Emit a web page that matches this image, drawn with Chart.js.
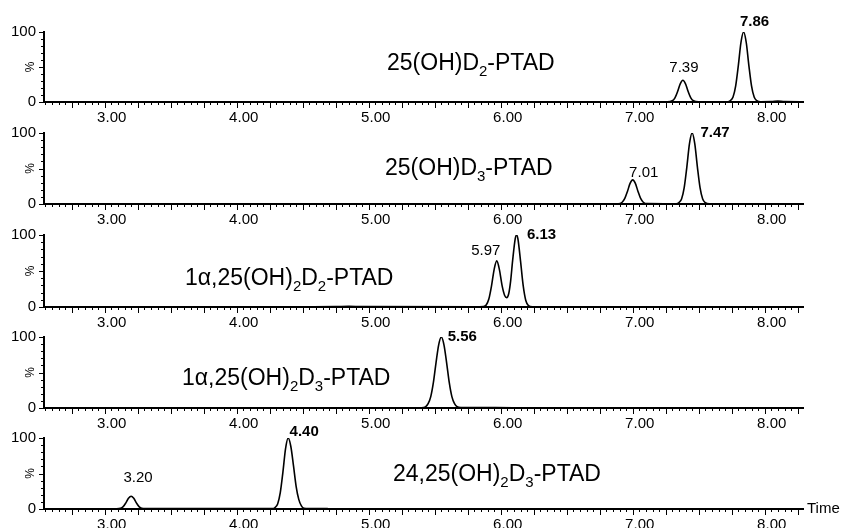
<!DOCTYPE html>
<html>
<head>
<meta charset="utf-8">
<script src="https://cdn.jsdelivr.net/npm/chart.js@4.4.0/dist/chart.umd.min.js"></script>
<style>
  body { margin: 0; background: #fff; width: 841px; height: 528px; overflow: hidden; position: relative; }
  canvas { position: absolute; left: 0; }
</style>
</head>
<body>
<script>
// retention time axis (min)
var timeMin = 2.54;
var timeMax = 8.29;
var timeTicks = [3, 4, 5, 6, 7, 8];
var yTicks = [0, 100];

// traces: [time, %]
var trace1 = [[5.90,0.4],[7.26,0.4],[7.30,1.8],[7.32,6],[7.34,15],[7.36,26],[7.38,31],[7.40,26],[7.42,15],[7.44,6],[7.46,1.8],[7.50,0.4],
  [7.72,0.4],[7.74,2],[7.76,7],[7.78,23],[7.80,52],[7.82,85],[7.84,100],[7.86,85],[7.88,52],[7.90,23],[7.92,7],[7.94,2],[7.97,0.4],
  [8.05,0.5],[8.10,1.2],[8.15,0.5],[8.27,0.4]];
var trace2 = [[5.90,0.4],[6.89,0.4],[6.92,2.5],[6.94,7.8],[6.96,17.7],[6.98,29],[7.00,34],[7.02,29],[7.04,17.7],[7.06,7.8],[7.08,2.5],[7.11,0.5],
  [7.33,0.4],[7.35,2],[7.37,7],[7.39,23],[7.41,52],[7.43,85],[7.45,100],[7.47,85],[7.49,52],[7.51,23],[7.53,7],[7.55,2],[7.58,0.4],[8.27,0.4]];
var trace3 = [[4.50,0.4],[4.75,0.6],[4.85,0.9],[4.95,0.6],[5.84,0.4],[5.87,0.6],[5.89,2.8],[5.91,11],[5.93,29],[5.95,52],[5.97,64],[5.99,52],
  [6.01,30],[6.03,16],[6.045,13],[6.06,18],[6.075,36],[6.09,64],[6.11,95],[6.12,100],[6.13,95],[6.15,64],[6.17,30],[6.19,9],[6.21,2],[6.24,0.4],[6.47,0.4]];
var trace4 = [[4.50,0.4],[5.40,0.4],[5.43,1.7],[5.45,6],[5.47,16],[5.49,36],[5.51,64],[5.53,89],[5.55,100],[5.57,89],[5.59,64],[5.61,36],
  [5.63,16],[5.65,6],[5.67,1.7],[5.70,0.7],[5.85,0.5],[6.09,0.4]];
var trace5 = [[2.54,0.4],[3.09,0.4],[3.12,1],[3.14,3.4],[3.16,8.6],[3.18,15],[3.20,18],[3.22,15],[3.24,8.6],[3.26,3.4],[3.28,1],[3.31,0.6],
  [3.45,0.7],[4.27,0.5],[4.29,2],[4.31,7],[4.33,23],[4.35,52],[4.37,85],[4.39,100],[4.41,88],[4.43,61],[4.45,32],[4.47,13.5],[4.49,4.4],
  [4.51,1.1],[4.55,0.7],[4.69,0.5]];
var traces = [trace1, trace2, trace3, trace4, trace5];

// peak apexes and their labels
var peakTimes = [[7.38, 7.84], [7.00, 7.45], [5.97, 6.12], [5.55], [3.20, 4.39]];
var peakHeights = [[31, 100], [34, 100], [64, 100], [100], [18, 100]];
var peakLabels = [['7.39', '7.86'], ['7.01', '7.47'], ['5.97', '6.13'], ['5.56'], ['3.20', '4.40']];
var peakBold = [[false, true], [false, true], [false, true], [true], [false, true]];

// compound names, [text, subscript?]
var names = [
  [['25(OH)D', 0], ['2', 1], ['-PTAD', 0]],
  [['25(OH)D', 0], ['3', 1], ['-PTAD', 0]],
  [['1\u03b1,25(OH)', 0], ['2', 1], ['D', 0], ['2', 1], ['-PTAD', 0]],
  [['1\u03b1,25(OH)', 0], ['2', 1], ['D', 0], ['3', 1], ['-PTAD', 0]],
  [['24,25(OH)', 0], ['2', 1], ['D', 0], ['3', 1], ['-PTAD', 0]]
];

// layout of each panel (pixels)
var layout = [
  {top: 32,  bottom: 102, nameX: 387, nameRise: 32, labelOff: [[1, -12], [11, -10]]},
  {top: 133, bottom: 204, nameX: 385, nameRise: 29, labelOff: [[11, -7], [23, 0]]},
  {top: 235, bottom: 307, nameX: 185, nameRise: 22, labelOff: [[-11, -10], [25, 0]]},
  {top: 337, bottom: 408, nameX: 182, nameRise: 23, labelOff: [[21, 0]]},
  {top: 438, bottom: 509, nameX: 393, nameRise: 28, labelOff: [[7, -18], [16, -6]]}
];

var FONT = "'Liberation Sans', Arial, Helvetica, sans-serif";
Chart.defaults.font.family = FONT;
Chart.defaults.color = '#000';

function draw_name(ctx, parts, x, y){
  for (var k = 0; k < parts.length; k++) {
    var sub = parts[k][1];
    ctx.font = (sub ? '15px ' : '23px ') + FONT;
    ctx.fillText(parts[k][0], x, sub ? y + 6 : y);
    x += ctx.measureText(parts[k][0]).width;
  }
}

function make_panel(i){
  var lay = layout[i];
  var padTop = 24;
  var top = lay.top - padTop;
  var bottom = (i == 4) ? 528 : lay.bottom + 28;
  var canvas = document.createElement('canvas');
  canvas.width = 841;
  canvas.height = bottom - top;
  canvas.style.top = top + 'px';
  document.body.appendChild(canvas);

  var decor = {
    id: 'decor' + i,
    afterDraw: function(chart){
      var ctx = chart.ctx;
      var xs = chart.scales.x, ys = chart.scales.y;
      var area = chart.chartArea;
      ctx.save();
      ctx.strokeStyle = '#000';
      ctx.lineWidth = 1;
      // x tick marks: 0.05 minor, 0.25 major
      for (var k = Math.ceil(timeMin * 20); k <= Math.floor(timeMax * 20); k++) {
        var px = Math.round(xs.getPixelForValue(k / 20)) + 0.5;
        var len = (k % 5 == 0) ? 6 : 3;
        ctx.beginPath();
        ctx.moveTo(px, area.bottom);
        ctx.lineTo(px, area.bottom + len);
        ctx.stroke();
      }
      // y tick marks
      for (var v = 0; v <= 100; v += 10) {
        var py = Math.round(ys.getPixelForValue(v)) + 0.5;
        var l = (v % 50 == 0) ? 5 : 3;
        ctx.beginPath();
        ctx.moveTo(area.left, py);
        ctx.lineTo(area.left - l, py);
        ctx.stroke();
      }
      ctx.fillStyle = '#000';
      // % label
      ctx.save();
      ctx.translate(31, ys.getPixelForValue(50));
      ctx.rotate(-Math.PI / 2);
      ctx.font = '12px ' + FONT;
      ctx.textAlign = 'center';
      ctx.textBaseline = 'middle';
      ctx.fillText('%', 0, 0);
      ctx.restore();
      // compound name
      ctx.textAlign = 'left';
      ctx.textBaseline = 'alphabetic';
      draw_name(ctx, names[i], lay.nameX, area.bottom - lay.nameRise);
      // peak labels
      ctx.textAlign = 'center';
      ctx.textBaseline = 'middle';
      for (var p = 0; p < peakTimes[i].length; p++) {
        ctx.font = (peakBold[i][p] ? 'bold ' : '') + '15px ' + FONT;
        var ax = xs.getPixelForValue(peakTimes[i][p]);
        var ay = ys.getPixelForValue(peakHeights[i][p]);
        ctx.fillText(peakLabels[i][p], ax + lay.labelOff[p][0], ay + lay.labelOff[p][1]);
      }
      if (i == 4) {
        ctx.textAlign = 'left';
        ctx.font = '15px ' + FONT;
        ctx.fillText('Time', area.right + 4, area.bottom);
      }
      ctx.restore();
    }
  };

  new Chart(canvas.getContext('2d'), {
    type: 'line',
    data: {
      datasets: [{
        data: traces[i].map(function(d){ return {x: d[0], y: d[1]}; }),
        borderColor: '#000',
        borderWidth: 1.6,
        pointRadius: 0,
        fill: false,
        cubicInterpolationMode: 'monotone'
      }]
    },
    options: {
      responsive: false,
      animation: false,
      devicePixelRatio: 1,
      layout: { padding: { top: padTop, right: 38, left: 0, bottom: 0 } },
      plugins: { legend: { display: false }, tooltip: { enabled: false } },
      scales: {
        x: {
          type: 'linear', bounds: 'data', min: timeMin, max: timeMax,
          afterBuildTicks: function(s){ s.ticks = timeTicks.map(function(t){ return {value: t}; }); },
          afterFit: function(s){ s.height = bottom - lay.bottom; },
          grid: { display: false, drawTicks: false },
          border: { display: true, color: '#000', width: 2 },
          ticks: { autoSkip: false, maxRotation: 0, padding: 7, labelOffset: 7, font: { size: 15 },
            callback: function(v){ return Number(v).toFixed(2); } }
        },
        y: {
          min: 0, max: 100,
          afterBuildTicks: function(s){ s.ticks = yTicks.map(function(t){ return {value: t}; }); },
          afterFit: function(s){ s.width = 44; },
          grid: { display: false, drawTicks: false },
          border: { display: true, color: '#000', width: 2 },
          ticks: { padding: 8, font: { size: 15 } }
        }
      }
    },
    plugins: [decor]
  });
}

for (var i = 0; i < 5; i++) {
  make_panel(i);
}
</script>
</body>
</html>
